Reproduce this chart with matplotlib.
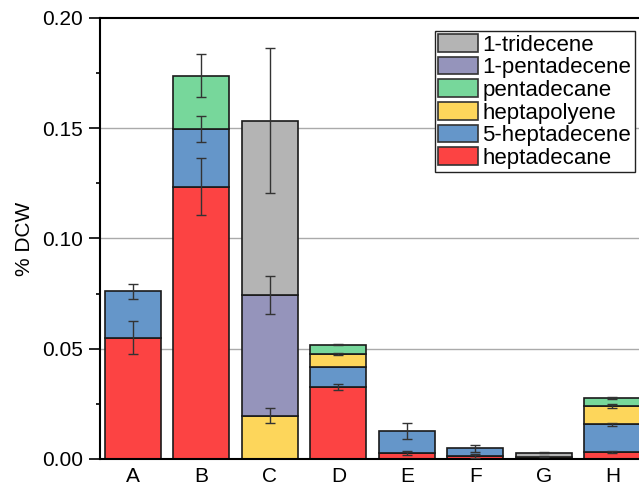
import matplotlib.pyplot as plt
import numpy as np
from matplotlib.patches import Patch

plt.rcParams["font.family"] = ["Liberation Sans", "DejaVu Sans"]

samples = ["A", "B", "C", "D", "E", "F", "G", "H"]

# layer heights, bottom to top
series = ["heptadecane", "5-heptadecene", "heptapolyene", "pentadecane",
          "1-pentadecene", "1-tridecene"]
heptadecane = [0.055, 0.1235, 0, 0.0327, 0.0027, 0.0014, 0, 0.0033]
heptadecene5 = [0.021, 0.0263, 0, 0.0091, 0.0100, 0.0034, 0, 0.0125]
heptapolyene = [0, 0, 0.0195, 0.0057, 0, 0, 0.0010, 0.0083]
pentadecane = [0, 0.0240, 0, 0.0044, 0, 0, 0, 0.0036]
pentadecene1 = [0, 0, 0.0547, 0, 0, 0, 0, 0]
tridecene1 = [0, 0, 0.0792, 0, 0, 0, 0.0018, 0]

heptadecane_err = [0.0075, 0.0128, 0, 0.0012, 0.0010, 0.0008, 0, 0.0004]
heptadecene5_err = [0.0034, 0.0059, 0, 0, 0.0036, 0.0015, 0, 0.0007]
heptapolyene_err = [0, 0, 0.0034, 0.0004, 0, 0, 0.0003, 0.0010]
pentadecane_err = [0, 0.0097, 0, 0.0003, 0, 0, 0, 0.0003]
pentadecene1_err = [0, 0, 0.0086, 0, 0, 0, 0, 0]
tridecene1_err = [0, 0, 0.0330, 0, 0, 0, 0.0003, 0]

colors = ["#fc4343", "#6596c9", "#fdd65b", "#77d79b", "#9594bb", "#b4b4b4"]

values = [heptadecane, heptadecene5, heptapolyene, pentadecane, pentadecene1, tridecene1]
errors = [heptadecane_err, heptadecene5_err, heptapolyene_err, pentadecane_err,
          pentadecene1_err, tridecene1_err]

fig = plt.figure(figsize=(6.39, 4.87), dpi=100)
ax = fig.add_axes([0.1565, 0.0575, 0.85, 0.906])

x = np.arange(len(samples))
bottom = np.zeros(len(samples))
for name, vals, errs, col in zip(series, values, errors, colors):
    vals = np.array(vals)
    errs = np.array(errs)
    m = vals > 0
    ax.bar(x[m], vals[m], width=0.82, bottom=bottom[m], color=col,
           edgecolor="#1a1a1a", linewidth=1.2, zorder=2)
    top = bottom + vals
    e = m & (errs > 0)
    ax.errorbar(x[e], top[e], yerr=errs[e], fmt="none", ecolor="#333333",
                elinewidth=1.0, capsize=3.5, capthick=1.0, zorder=3)
    bottom = top

ax.set_xlim(-0.48, 7.45)
ax.set_ylim(0, 0.20)
ax.set_yticks([0, 0.05, 0.10, 0.15, 0.20])
ax.set_yticklabels(["0.00", "0.05", "0.10", "0.15", "0.20"])
ax.set_yticks(np.arange(0.025, 0.2, 0.05), minor=True)
ax.set_xticks(x)
ax.set_xticklabels(samples)
ax.tick_params(axis="y", which="major", length=8, width=1.2, labelsize=15, pad=4)
ax.tick_params(axis="y", which="minor", length=3, width=1.2)
ax.tick_params(axis="x", length=0, labelsize=15, pad=6)
ax.set_ylabel("% DCW", fontsize=15, labelpad=6)

for y in [0.05, 0.10, 0.15]:
    ax.axhline(y, color="#aaaaaa", linewidth=1.0, zorder=0)

ax.spines["right"].set_visible(False)
for s in ["left", "bottom", "top"]:
    ax.spines[s].set_linewidth(1.5)

handles = [Patch(facecolor=c, edgecolor="#333333", linewidth=1.2, label=n)
           for n, c in zip(series, colors)][::-1]
leg = ax.legend(handles=handles, loc="upper right", bbox_to_anchor=(0.993, 0.937),
                bbox_transform=fig.transFigure, fontsize=16, frameon=True,
                fancybox=False, edgecolor="#222222", framealpha=1,
                handlelength=1.8, handleheight=0.85, handletextpad=0.2,
                labelspacing=0.05, borderpad=0.15, borderaxespad=0)
leg.get_frame().set_linewidth(1.0)

fig.savefig("out.png", dpi=100)
